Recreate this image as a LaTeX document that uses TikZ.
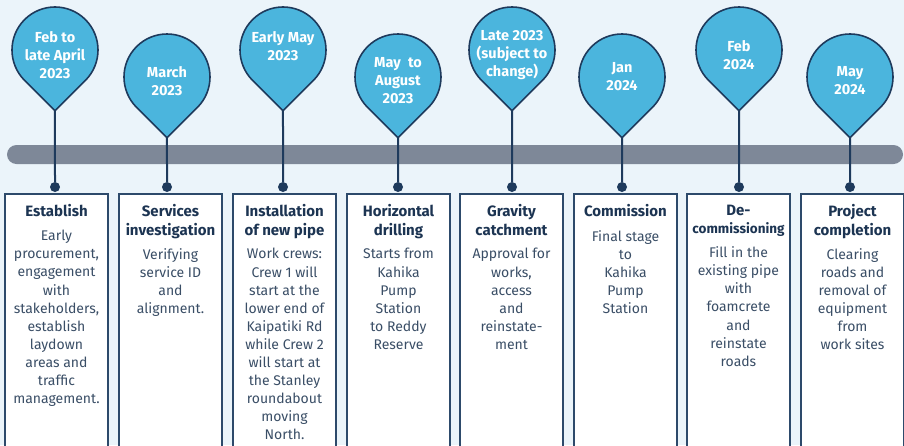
\documentclass[tikz,border=0pt]{standalone}
\usepackage{fontspec}
\setmainfont{Fira Sans}
\usetikzlibrary{positioning}

\definecolor{bgblue}{HTML}{EBF4FA}
\definecolor{bargray}{HTML}{7E8898}
\definecolor{pinblue}{HTML}{4BB5DD}
\definecolor{navy}{HTML}{1E3A5C}
\definecolor{boxline}{HTML}{2D4A6B}
\definecolor{headtext}{HTML}{1C3452}
\definecolor{bodytext}{HTML}{3A4E66}

\begin{document}
\begin{tikzpicture}[x=1pt, y=1pt,
  pinshape/.style={fill=pinblue, draw=navy, line width=1.6pt, line join=round},
  datetext/.style={text=white, align=center, inner sep=0pt,
    font=\bfseries\fontsize{14.5}{18}\selectfont},
  stem/.style={draw=navy, line width=2pt},
  dotmark/.style={circle, fill=navy, minimum size=10pt, inner sep=0pt},
  stagebox/.style={draw=boxline, fill=white, line width=2pt, anchor=north,
    minimum width=103pt, minimum height=280pt, inner sep=0pt},
  stagehead/.style={text=headtext, align=center, inner sep=0pt, text depth=0pt,
    font=\bfseries\fontsize{15}{18.2}\selectfont},
  stagebody/.style={text=bodytext, align=center, inner sep=0pt,
    font=\fontsize{14}{18.1}\selectfont}]

% Background
\useasboundingbox (0,0) rectangle (904,-445);
\clip (0,0) rectangle (904,-445);
\fill[bgblue] (0,0) rectangle (904,-445);

% Bar
\fill[bargray, rounded corners=9.5pt] (7,-145) rectangle (903,-164);

% Boxes
\node[stagebox] (box1) at (56.5,-193) {};
\node[stagebox] (box2) at (170.5,-193) {};
\node[stagebox] (box3) at (284.5,-193) {};
\node[stagebox] (box4) at (398.5,-193) {};
\node[stagebox] (box5) at (511.5,-193) {};
\node[stagebox] (box6) at (625.5,-193) {};
\node[stagebox] (box7) at (738.5,-193) {};
\node[stagebox] (box8) at (852.5,-193) {};

% Headings
\node[stagehead, below=11.5pt of box1.north] (head1) {Establish};
\node[stagehead, below=11.5pt of box2.north] (head2) {Services\\investigation};
\node[stagehead, below=11.5pt of box3.north] (head3) {Installation\\of new pipe};
\node[stagehead, below=11.5pt of box4.north] (head4) {Horizontal\\drilling};
\node[stagehead, below=11.5pt of box5.north] (head5) {Gravity\\catchment};
\node[stagehead, below=11.5pt of box6.north] (head6) {Commission};
\node[stagehead, below=11.5pt of box7.north] (head7) {De-\\{\fontsize{13.5}{18.2}\selectfont commissioning}};
\node[stagehead, below=11.5pt of box8.north] (head8) {Project\\completion};

% Texts
\node[stagebody, below=13pt of head1] (body1) {Early\\procurement,\\engagement\\with\\stakeholders,\\establish\\laydown\\areas and\\traffic\\management.};
\node[stagebody, below=13pt of head2] (body2) {Verifying\\service ID\\and\\alignment.};
\node[stagebody, below=13pt of head3] (body3) {Work crews:\\Crew 1 will\\start at the\\lower end of\\Kaipatiki Rd\\while Crew 2\\will start at\\the Stanley\\roundabout\\moving\\North.};
\node[stagebody, below=13pt of head4] (body4) {Starts from\\Kahika\\Pump\\Station\\to Reddy\\Reserve};
\node[stagebody, below=13pt of head5] (body5) {Approval for\\works,\\access\\and\\reinstate-\\ment};
\node[stagebody, below=13pt of head6] (body6) {Final stage\\to\\Kahika\\Pump\\Station};
\node[stagebody, below=13pt of head7] (body7) {Fill in the\\existing pipe\\with\\foamcrete\\and\\reinstate\\roads};
\node[stagebody, below=13pt of head8] (body8) {Clearing\\roads and\\removal of\\equipment\\from\\work sites};

% Dots
\node[dotmark] (dot1) at (55,-187) {};
\node[dotmark] (dot2) at (167,-187) {};
\node[dotmark] (dot3) at (283,-187) {};
\node[dotmark] (dot4) at (398,-187) {};
\node[dotmark] (dot5) at (512,-187) {};
\node[dotmark] (dot6) at (622,-187) {};
\node[dotmark] (dot7) at (739,-187) {};
\node[dotmark] (dot8) at (850,-187) {};

% Pins
\draw[pinshape] (55,-50) ++(-45:43) arc[start angle=-45, end angle=225, radius=43pt] -- ++(30.4,-30.4) coordinate (tip1) -- cycle;
\draw[pinshape] (167,-77) ++(-45:43) arc[start angle=-45, end angle=225, radius=43pt] -- ++(30.4,-30.4) coordinate (tip2) -- cycle;
\draw[pinshape] (283,-50) ++(-45:43) arc[start angle=-45, end angle=225, radius=43pt] -- ++(30.4,-30.4) coordinate (tip3) -- cycle;
\draw[pinshape] (398,-77) ++(-45:43) arc[start angle=-45, end angle=225, radius=43pt] -- ++(30.4,-30.4) coordinate (tip4) -- cycle;
\draw[pinshape] (512,-50) ++(-45:43) arc[start angle=-45, end angle=225, radius=43pt] -- ++(30.4,-30.4) coordinate (tip5) -- cycle;
\draw[pinshape] (622,-77) ++(-45:43) arc[start angle=-45, end angle=225, radius=43pt] -- ++(30.4,-30.4) coordinate (tip6) -- cycle;
\draw[pinshape] (739,-50) ++(-45:43) arc[start angle=-45, end angle=225, radius=43pt] -- ++(30.4,-30.4) coordinate (tip7) -- cycle;
\draw[pinshape] (850,-77) ++(-45:43) arc[start angle=-45, end angle=225, radius=43pt] -- ++(30.4,-30.4) coordinate (tip8) -- cycle;

% Stems
\draw[stem] (tip1) -- (dot1);
\draw[stem] (tip2) -- (dot2);
\draw[stem] (tip3) -- (dot3);
\draw[stem] (tip4) -- (dot4);
\draw[stem] (tip5) -- (dot5);
\draw[stem] (tip6) -- (dot6);
\draw[stem] (tip7) -- (dot7);
\draw[stem] (tip8) -- (dot8);

% Dates
\node[datetext] (date1) at (55,-55) {Feb to\\late April\\2023};
\node[datetext] (date2) at (167,-81) {March\\2023};
\node[datetext] (date3) at (283,-46) {Early May\\2023};
\node[datetext] (date4) at (398,-81) {May\enspace to\\August\\2023};
\node[datetext] (date5) at (512,-55) {Late 2023\\(subject to\\change)};
\node[datetext] (date6) at (622,-77) {Jan\\2024};
\node[datetext] (date7) at (739,-55) {Feb\\2024};
\node[datetext] (date8) at (850,-81) {May\\2024};
\end{tikzpicture}
\end{document}
